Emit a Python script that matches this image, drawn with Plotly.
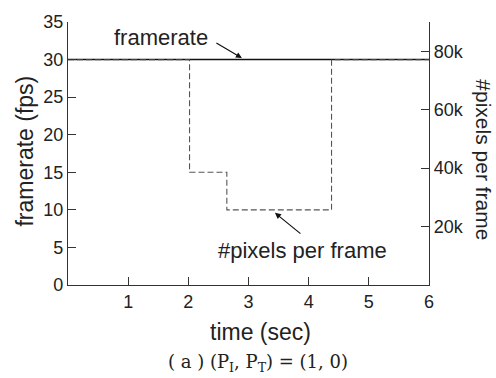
import plotly.graph_objects as go

time_fr = [0, 6]
framerate = [30, 30]

time_px = [0, 2.02, 2.02, 2.64, 2.64, 4.38, 4.38, 6]
pixels = [77100, 77100, 38600, 38600, 25700, 25700, 77100, 77100]

x_ticks = [1, 2, 3, 4, 5, 6]
y_ticks = [0, 5, 10, 15, 20, 25, 30, 35]
y2_ticks = [20000, 40000, 60000, 80000, 90000]
y2_labels = ["20k", "40k", "60k", "80k", ""]

FONT = "Liberation Sans, Arial, sans-serif"
AX = "#333333"

fig = go.Figure()
fig.add_trace(go.Scatter(x=time_px, y=pixels, mode="lines", yaxis="y2",
                         line=dict(color="#555555", width=1.1, dash="6px,3px"),
                         showlegend=False, hoverinfo="skip"))
fig.add_trace(go.Scatter(x=time_fr, y=framerate, mode="lines",
                         line=dict(color="#111111", width=1.4),
                         showlegend=False, hoverinfo="skip"))

fig.update_layout(
    width=496, height=378,
    margin=dict(l=68, r=67, t=15, b=93),
    paper_bgcolor="white", plot_bgcolor="white",
    font=dict(family=FONT, size=18, color="#222222"),
    xaxis=dict(range=[0, 6], tickvals=x_ticks, ticks="inside", ticklen=8,
               tickcolor=AX, showline=True, linecolor=AX, linewidth=1.2,
               showgrid=False, zeroline=False, tickfont=dict(size=18)),
    yaxis=dict(range=[0, 35], tickvals=y_ticks, ticks="inside", ticklen=8,
               tickcolor=AX, showline=True, linecolor=AX, linewidth=1.2,
               showgrid=False, zeroline=False, tickfont=dict(size=18)),
    yaxis2=dict(range=[0, 90000], tickvals=y2_ticks, ticktext=y2_labels,
                overlaying="y", side="right", ticks="inside", ticklen=8,
                tickcolor=AX, showline=True, linecolor=AX, linewidth=1.2,
                showgrid=False, zeroline=False, tickfont=dict(size=18)),
)

fig.add_annotation(x=2.89, y=30.2, ax=-27, ay=-16, axref="pixel", ayref="pixel",
                   text="", showarrow=True, arrowhead=2, arrowsize=1, arrowwidth=1.2,
                   arrowcolor="#111111")
fig.add_annotation(x=2.36, y=32.9, text="framerate", showarrow=False,
                   xanchor="right", yanchor="middle", font=dict(size=22))
fig.add_annotation(x=3.44, y=9.6, ax=27, ay=22, axref="pixel", ayref="pixel",
                   text="", showarrow=True, arrowhead=2, arrowsize=1, arrowwidth=1.2,
                   arrowcolor="#111111")
fig.add_annotation(x=3.90, y=4.54, text="#pixels per frame", showarrow=False,
                   xanchor="center", yanchor="middle", font=dict(size=22))

fig.add_annotation(xref="paper", yref="paper", x=(260 - 68) / 361, y=-(333 - 285) / 270,
                   text="time (sec)", showarrow=False, yanchor="middle", font=dict(size=23))
fig.add_annotation(xref="paper", yref="paper", x=-(68 - 25) / 361, y=(285 - 148) / 270,
                   text="framerate (fps)", textangle=-90, showarrow=False,
                   xanchor="center", yanchor="middle", font=dict(size=23))
fig.add_annotation(xref="paper", yref="paper", x=(484 - 68) / 361, y=(285 - 156) / 270,
                   text="#pixels per frame", textangle=90, showarrow=False,
                   xanchor="center", yanchor="middle", font=dict(size=21))
fig.add_annotation(xref="paper", yref="paper", x=(258 - 68) / 361, y=-(365 - 285) / 270,
                   yanchor="middle",
                   text="( a ) (P<sub>I</sub>, P<sub>T</sub>) = (1, 0)", showarrow=False,
                   font=dict(family="DejaVu Serif, Liberation Serif, serif", size=18))

fig.write_html("out.html", config={"displayModeBar": False},
               post_script="document.body.style.margin='0';")
